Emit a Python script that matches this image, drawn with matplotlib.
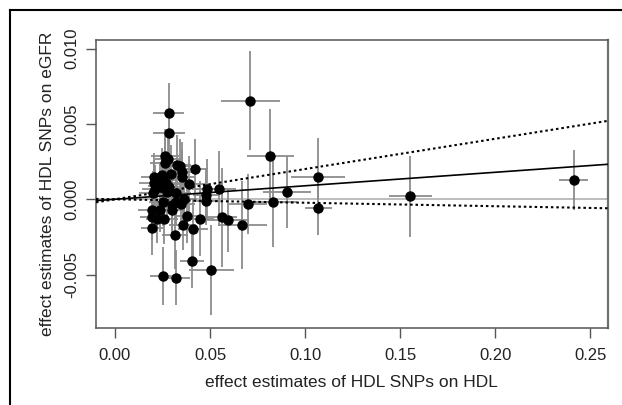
#!/usr/bin/env python3
"""HDL SNPs: effect on HDL vs effect on eGFR, with error bars and MR fit lines."""

import matplotlib
matplotlib.use("Agg")
import matplotlib.pyplot as plt
from matplotlib.lines import Line2D
import numpy as np

plt.rcParams["font.family"] = ["Liberation Sans", "DejaVu Sans"]

# effect on HDL (x), effect on eGFR (y) and their standard errors
beta_hdl = [0.0283, 0.0286, 0.0711, 0.0817, 0.1067, 0.1070, 0.1553, 0.2412,
            0.0904, 0.0830, 0.0698, 0.0670, 0.0595, 0.0561, 0.0547, 0.0483,
            0.0479, 0.0479, 0.0447, 0.0507, 0.0404, 0.0321, 0.0254, 0.0316,
            0.0409, 0.0356, 0.0379, 0.0195, 0.0195, 0.0223, 0.0260, 0.0195,
            0.0239, 0.0298, 0.0298, 0.0251, 0.0346, 0.0321, 0.0361, 0.0202,
            0.0275, 0.0321, 0.0237, 0.0283, 0.0205, 0.0268, 0.0205, 0.0247,
            0.0296, 0.0353, 0.0353, 0.0342, 0.0325, 0.0421, 0.0391, 0.0263,
            0.0280, 0.0263, 0.0254, 0.0210]
beta_egfr = [0.0057, 0.0044, 0.00655, 0.0029, 0.0015, -0.0006, 0.0002, 0.0013,
             0.0005, -0.0002, -0.0003, -0.0017, -0.0014, -0.0012, 0.0007, 0.0007,
             0.0003, -0.0001, -0.0013, -0.0047, -0.0041, -0.0052, -0.0051, -0.0024,
             -0.0020, -0.0017, -0.0011, -0.0019, -0.0012, -0.0013, -0.0013, -0.0007,
             -0.0007, -0.0007, -0.0004, -0.0002, -0.0003, -0.0002, 0.0000, 0.0004,
             0.0005, 0.0004, 0.0009, 0.0008, 0.0011, 0.0011, 0.0015, 0.0016,
             0.0017, 0.0015, 0.0018, 0.0022, 0.0023, 0.0020, 0.0010, 0.0029,
             0.0027, 0.0024, 0.0013, 0.0007]
se_hdl = [0.0082, 0.0084, 0.0155, 0.0123, 0.0140, 0.0070, 0.0112, 0.0078,
          0.0127, 0.0125, 0.0100, 0.0130, 0.0110, 0.0080, 0.0090, 0.0080,
          0.0070, 0.0070, 0.0075, 0.0120, 0.0063, 0.0075, 0.0072, 0.0070,
          0.0080, 0.0070, 0.0060, 0.0060, 0.0065, 0.0060, 0.0070, 0.0075,
          0.0065, 0.0070, 0.0080, 0.0070, 0.0075, 0.0065, 0.0070, 0.0075,
          0.0070, 0.0080, 0.0065, 0.0070, 0.0080, 0.0070, 0.0070, 0.0060,
          0.0080, 0.0065, 0.0070, 0.0080, 0.0075, 0.0070, 0.0080, 0.0075,
          0.0070, 0.0080, 0.0065, 0.0070]
se_egfr = [0.0020, 0.0017, 0.0033, 0.0031, 0.0026, 0.0018, 0.0027, 0.0020,
           0.0024, 0.0030, 0.0020, 0.0029, 0.0021, 0.0033, 0.0025, 0.0020,
           0.0018, 0.0016, 0.0025, 0.0030, 0.0018, 0.0018, 0.0019, 0.0022,
           0.0020, 0.0017, 0.0018, 0.0018, 0.0015, 0.0016, 0.0017, 0.0016,
           0.0015, 0.0018, 0.0017, 0.0016, 0.0017, 0.0016, 0.0016, 0.0015,
           0.0016, 0.0017, 0.0016, 0.0018, 0.0015, 0.0017, 0.0016, 0.0018,
           0.0019, 0.0018, 0.0020, 0.0018, 0.0020, 0.0020, 0.0019, 0.0018,
           0.0020, 0.0017, 0.0016, 0.0016]

# causal estimate (slope through origin) and its confidence limits
ivw_slope = 0.00897
ivw_upper = 0.0201
ivw_lower = -0.0023

x_ticks = [0.00, 0.05, 0.10, 0.15, 0.20, 0.25]
x_ticklabels = ["0.00", "0.05", "0.10", "0.15", "0.20", "0.25"]
y_ticks = [-0.005, 0.000, 0.005, 0.010]
y_ticklabels = ["-0.005", "0.000", "0.005", "0.010"]

fig = plt.figure(figsize=(6.22, 4.05), dpi=100)
ax = fig.add_axes([0.1543, 0.1894, 0.8224, 0.7118])

# outer frame of the cropped figure: left and top only
fig.add_artist(Line2D([10 / 622, 10 / 622], [0, 1 - 10 / 405], transform=fig.transFigure,
                      color="black", lw=1.5))
fig.add_artist(Line2D([10 / 622, 1], [1 - 10 / 405, 1 - 10 / 405], transform=fig.transFigure,
                      color="black", lw=1.5))

xlim = (-0.0100, 0.2590)
ylim = (-0.00857, 0.01058)

ax.axhline(0, color="#b8b8b8", lw=1.3, zorder=1)
ax.errorbar(beta_hdl, beta_egfr, xerr=se_hdl, yerr=se_egfr, fmt="none",
            ecolor="#8c8c8c", elinewidth=1.3, capsize=0, zorder=2)
ax.plot(beta_hdl, beta_egfr, "o", color="black", ms=6.5, zorder=4)

xs = np.array(xlim)
ax.plot(xs, ivw_slope * xs, color="black", lw=1.2, zorder=3)
ax.plot(xs, ivw_upper * xs, color="black", lw=1.5, ls=(0, (1.2, 1.4)), zorder=3)
ax.plot(xs, ivw_lower * xs, color="black", lw=1.5, ls=(0, (1.2, 1.4)), zorder=3)

ax.set_xlim(*xlim)
ax.set_ylim(*ylim)
ax.set_xticks(x_ticks)
ax.set_xticklabels(x_ticklabels)
ax.set_yticks(y_ticks)
ax.set_yticklabels(y_ticklabels, rotation=90, va="center")

for spine in ax.spines.values():
    spine.set_color("#555555")
    spine.set_linewidth(1.1)
ax.spines["right"].set_color("#707070")
ax.spines["right"].set_linewidth(1.6)

ax.tick_params(direction="out", length=7, width=1.0, color="#555555",
               labelsize=12, labelcolor="#222222")
ax.tick_params(axis="x", pad=7)
ax.tick_params(axis="y", pad=5)
ax.set_xlabel("effect estimates of HDL SNPs on HDL", fontsize=12.5, color="#222222", labelpad=9)
ax.set_ylabel("effect estimates of HDL SNPs on eGFR", fontsize=12.5, color="#222222", labelpad=7)

fig.savefig("out.png", dpi=100)
